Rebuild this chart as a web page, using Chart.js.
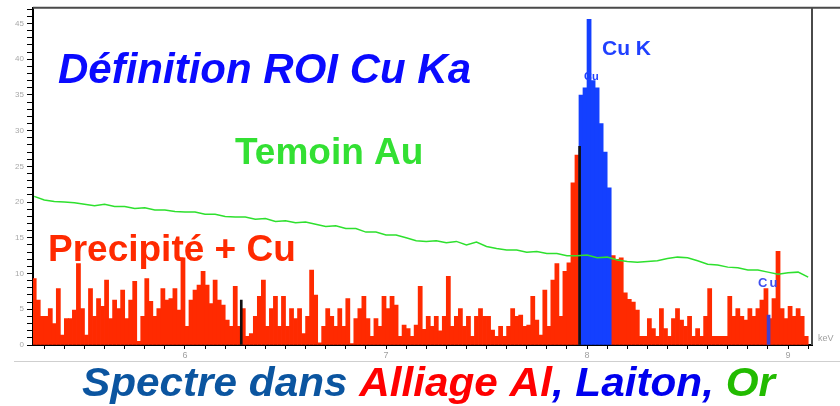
<!DOCTYPE html>
<html>
<head>
<meta charset="utf-8">
<script src="https://cdn.jsdelivr.net/npm/chart.js@4.4.1/dist/chart.umd.min.js"></script>
<style>
    html, body { margin: 0; padding: 0; background: #fff; }
</style>
</head>
<body>
<canvas id="myChart" width="840" height="406"></canvas>
<script>
// spectrum bins, keV
const binStartKeV = 5.25;
const binWidthKeV = 0.02;

// red spectrum (Precipité + Cu), counts per bin; ROI bins left empty
const precipiteCounts = [
    9.3, 6.3, 4.0, 4.0, 5.1, 3.0, 7.9, 1.4, 3.7, 3.7,
    4.9, 11.4, 5.1, 1.4, 7.9, 4.0, 6.5, 5.4, 9.1, 3.7,
    6.3, 5.1, 7.7, 3.7, 6.3, 8.9, 0.5, 4.0, 9.3, 6.1,
    4.0, 5.1, 7.9, 6.3, 6.5, 7.9, 4.9, 12.2, 2.6, 6.3,
    7.7, 8.4, 10.3, 8.4, 5.8, 9.1, 6.3, 5.6, 3.5, 2.6,
    8.2, 2.6, 5.1, 1.2, 1.6, 4.0, 6.8, 9.1, 2.6, 5.1,
    6.8, 2.6, 6.8, 2.6, 5.1, 3.7, 5.1, 1.6, 4.0, 10.5,
    7.0, 0.3, 2.6, 5.1, 4.0, 2.6, 5.1, 2.6, 6.5, 0.2,
    3.7, 5.1, 6.8, 3.7, 1.2, 3.7, 2.6, 6.8, 5.1, 6.8,
    5.6, 1.2, 2.8, 2.3, 1.2, 2.8, 8.2, 2.2, 4.0, 2.6,
    4.0, 2.0, 4.0, 9.6, 2.6, 4.0, 5.1, 2.6, 4.0, 1.2,
    4.0, 5.1, 4.0, 4.0, 2.1, 1.2, 2.6, 1.2, 2.6, 5.1,
    4.0, 4.2, 2.6, 2.8, 6.8, 3.5, 1.4, 7.7, 2.6, 9.1,
    11.4, 4.0, 10.3, 11.5, 22.7, 26.6, null, null, null, null,
    null, null, null, null, 12.5, 12.0, 12.2, 7.3, 6.4, 6.0,
    4.9, 1.2, 1.2, 3.7, 2.3, 1.2, 5.1, 2.3, 1.2, 3.7,
    5.1, 3.5, 2.6, 4.0, 1.2, 2.3, 1.2, 4.0, 7.9, 1.2,
    1.2, 1.2, 1.2, 6.8, 4.0, 5.1, 4.0, 3.5, 5.1, 4.0,
    5.1, 6.3, 7.9, 3.7, 6.5, 13.1, 5.1, 3.7, 5.4, 4.0,
    5.1, 4.0, 1.2
];

// blue ROI Cu Ka (Laiton)
const roiStartKeV = 7.97;
const roiCounts = [35, 36, 45.6, 37, 36, 31, 27, 22];

// green reference (Temoin Au)
const temoinStartKeV = 5.25;
const temoinStepKeV = 0.05;
const temoinAu = [
    20.8, 20.3, 20.1, 20.0, 19.9, 19.7, 19.5, 19.7, 19.4, 19.4,
    19.1, 19.2, 18.9, 18.9, 18.7, 18.6, 18.6, 18.3, 18.3, 18.0,
    17.9, 17.9, 17.6, 17.7, 17.3, 17.4, 17.1, 17.2, 16.9, 16.6,
    16.7, 16.3, 16.3, 15.8, 15.8, 15.4, 15.4, 15.0, 14.6, 14.5,
    14.6, 14.3, 14.5, 14.0, 14.4, 13.8, 13.5, 13.3, 13.3, 13.0,
    13.1, 12.8, 12.8, 12.5, 12.5, 12.6, 12.2, 12.3, 11.9, 11.7,
    11.6, 11.7, 11.8, 12.1, 12.3, 12.2, 11.8, 11.3, 11.2, 10.9,
    10.8, 10.5, 10.5, 10.2, 9.9, 10.1, 10.2, 9.5
];

// ROI boundary markers (black) and Cu Kb line (blue)
const markerKeV = [6.28, 7.963];
const markerCounts = [6.3, 27.8];
const cuKbKeV = [8.903];
const cuKbCounts = [4.2];

// axes
const xMinKeV = 5.244;
const xMaxKeV = 9.119;
const yMax = 47.2;
const yLabelStep = 5;

const precipiteData = precipiteCounts.map((v, i) => ({ x: binStartKeV + i * binWidthKeV, y: v }));
const roiData = roiCounts.map((v, i) => ({ x: roiStartKeV + i * binWidthKeV, y: v }));
const temoinData = temoinAu.map((v, i) => ({ x: temoinStartKeV + i * temoinStepKeV, y: v }));
const markerData = markerKeV.map((k, i) => ({ x: k, y: markerCounts[i] }));
const cuKbData = cuKbKeV.map((k, i) => ({ x: k, y: cuKbCounts[i] }));

const FONT = '"Liberation Sans", Arial, sans-serif';

const overlay = {
    id: 'overlay',
    afterDraw(chart) {
        const ctx = chart.ctx;
        const a = chart.chartArea;
        ctx.save();

        // frame lines
        ctx.strokeStyle = '#4a4a4a';
        ctx.lineWidth = 2;
        ctx.beginPath();
        ctx.moveTo(a.left, a.top);
        ctx.lineTo(840, a.top);
        ctx.moveTo(a.right, a.top);
        ctx.lineTo(a.right, a.bottom);
        ctx.stroke();
        ctx.strokeStyle = '#cfcfcf';
        ctx.lineWidth = 1;
        ctx.beginPath();
        ctx.moveTo(14, 361.5);
        ctx.lineTo(840, 361.5);
        ctx.stroke();

        ctx.textBaseline = 'alphabetic';
        ctx.textAlign = 'left';

        ctx.fillStyle = '#a0a0a0';
        ctx.font = '9px ' + FONT;
        ctx.fillText('keV', 818, 341);

        ctx.fillStyle = '#0a0aff';
        ctx.font = 'italic bold 42px ' + FONT;
        ctx.fillText('Définition ROI Cu Ka', 58, 83);

        ctx.fillStyle = '#33e033';
        ctx.font = 'bold 37px ' + FONT;
        ctx.fillText('Temoin Au', 235, 164);

        ctx.fillStyle = '#ff2a00';
        ctx.font = 'bold 37px ' + FONT;
        ctx.fillText('Precipité + Cu', 48, 261);

        ctx.fillStyle = '#2040ff';
        ctx.font = 'bold 21px ' + FONT;
        ctx.fillText('Cu K', 602, 55);
        ctx.font = 'bold 11px ' + FONT;
        ctx.fillText('Cu', 584, 80);
        ctx.fillStyle = '#4050ee';
        ctx.font = 'bold 13px ' + FONT;
        ctx.letterSpacing = '2px';
        ctx.fillText('Cu', 758, 287);
        ctx.letterSpacing = '0px';

        // bottom title, several colours
        const parts = [
            ['Spectre dans ', '#0b55a0'],
            ['Alliage Al', '#ff0000'],
            [', Laiton, ', '#0000ee'],
            ['Or', '#22bb00']
        ];
        ctx.font = 'italic bold 41px ' + FONT;
        let total = 0;
        parts.forEach(p => { total += ctx.measureText(p[0]).width; });
        const sx = 693 / total;
        ctx.translate(82, 396);
        ctx.scale(sx, 1);
        let x = 0;
        parts.forEach(p => {
            ctx.fillStyle = p[1];
            ctx.fillText(p[0], x, 0);
            x += ctx.measureText(p[0]).width;
        });
        ctx.restore();
    }
};

const ctx = document.getElementById('myChart').getContext('2d');
new Chart(ctx, {
    type: 'bar',
    data: {
        datasets: [
            {
                type: 'line',
                label: 'Temoin Au',
                data: temoinData,
                borderColor: '#2ee02e',
                borderWidth: 1.5,
                pointRadius: 0,
                tension: 0,
                order: 0,
            },
            {
                label: 'markers',
                data: markerData,
                backgroundColor: '#111111',
                barThickness: 2,
                grouped: false,
                order: 1,
            },
            {
                label: 'Cu Kb',
                data: cuKbData,
                backgroundColor: '#4040d0',
                barThickness: 3,
                grouped: false,
                order: 1,
            },
            {
                label: 'Laiton',
                data: roiData,
                backgroundColor: '#1440ff',
                barThickness: 4.1,
                grouped: false,
                order: 2,
            },
            {
                label: 'Precipité + Cu',
                data: precipiteData,
                backgroundColor: '#ff2a00',
                barThickness: 4.1,
                grouped: false,
                order: 3,
            },
        ],
    },
    options: {
        responsive: false,
        animation: false,
        devicePixelRatio: 1,
        layout: { padding: { top: 7, right: 28, left: 0, bottom: 0 } },
        plugins: {
            legend: { display: false },
            tooltip: { enabled: false },
        },
        scales: {
            x: {
                type: 'linear',
                offset: false,
                min: xMinKeV,
                max: xMaxKeV,
                afterBuildTicks: function (scale) {
                    const ticks = [];
                    for (let t = Math.ceil(xMinKeV * 10); t <= Math.floor(xMaxKeV * 10); t++) {
                        ticks.push({ value: t / 10 });
                    }
                    scale.ticks = ticks;
                },
                afterFit: function (scale) { scale.height = 61; },
                border: { display: true, color: '#000', width: 2 },
                grid: { display: true, offset: false, drawOnChartArea: false, drawTicks: true, tickLength: 4, tickColor: '#000' },
                ticks: {
                    autoSkip: false,
                    maxRotation: 0,
                    padding: 1,
                    color: '#a0a0a0',
                    font: { size: 9, family: FONT },
                    callback: function (value) {
                        if (Math.abs(value - Math.round(value)) < 1e-6) {
                            return Math.round(value);
                        }
                        return '';
                    },
                },
            },
            y: {
                min: 0,
                max: yMax,
                afterBuildTicks: function (scale) {
                    const ticks = [];
                    for (let t = 0; t <= Math.floor(yMax); t++) {
                        ticks.push({ value: t });
                    }
                    scale.ticks = ticks;
                },
                afterFit: function (scale) { scale.width = 33; },
                border: { display: true, color: '#000', width: 2 },
                grid: { display: true, drawOnChartArea: false, drawTicks: true, tickLength: 6, tickColor: '#000' },
                ticks: {
                    autoSkip: false,
                    padding: 3,
                    color: '#a8a8a8',
                    font: { size: 8, family: FONT },
                    callback: function (value) {
                        return value % yLabelStep === 0 ? value : '';
                    },
                },
            },
        },
    },
    plugins: [overlay],
});
</script>
</body>
</html>
